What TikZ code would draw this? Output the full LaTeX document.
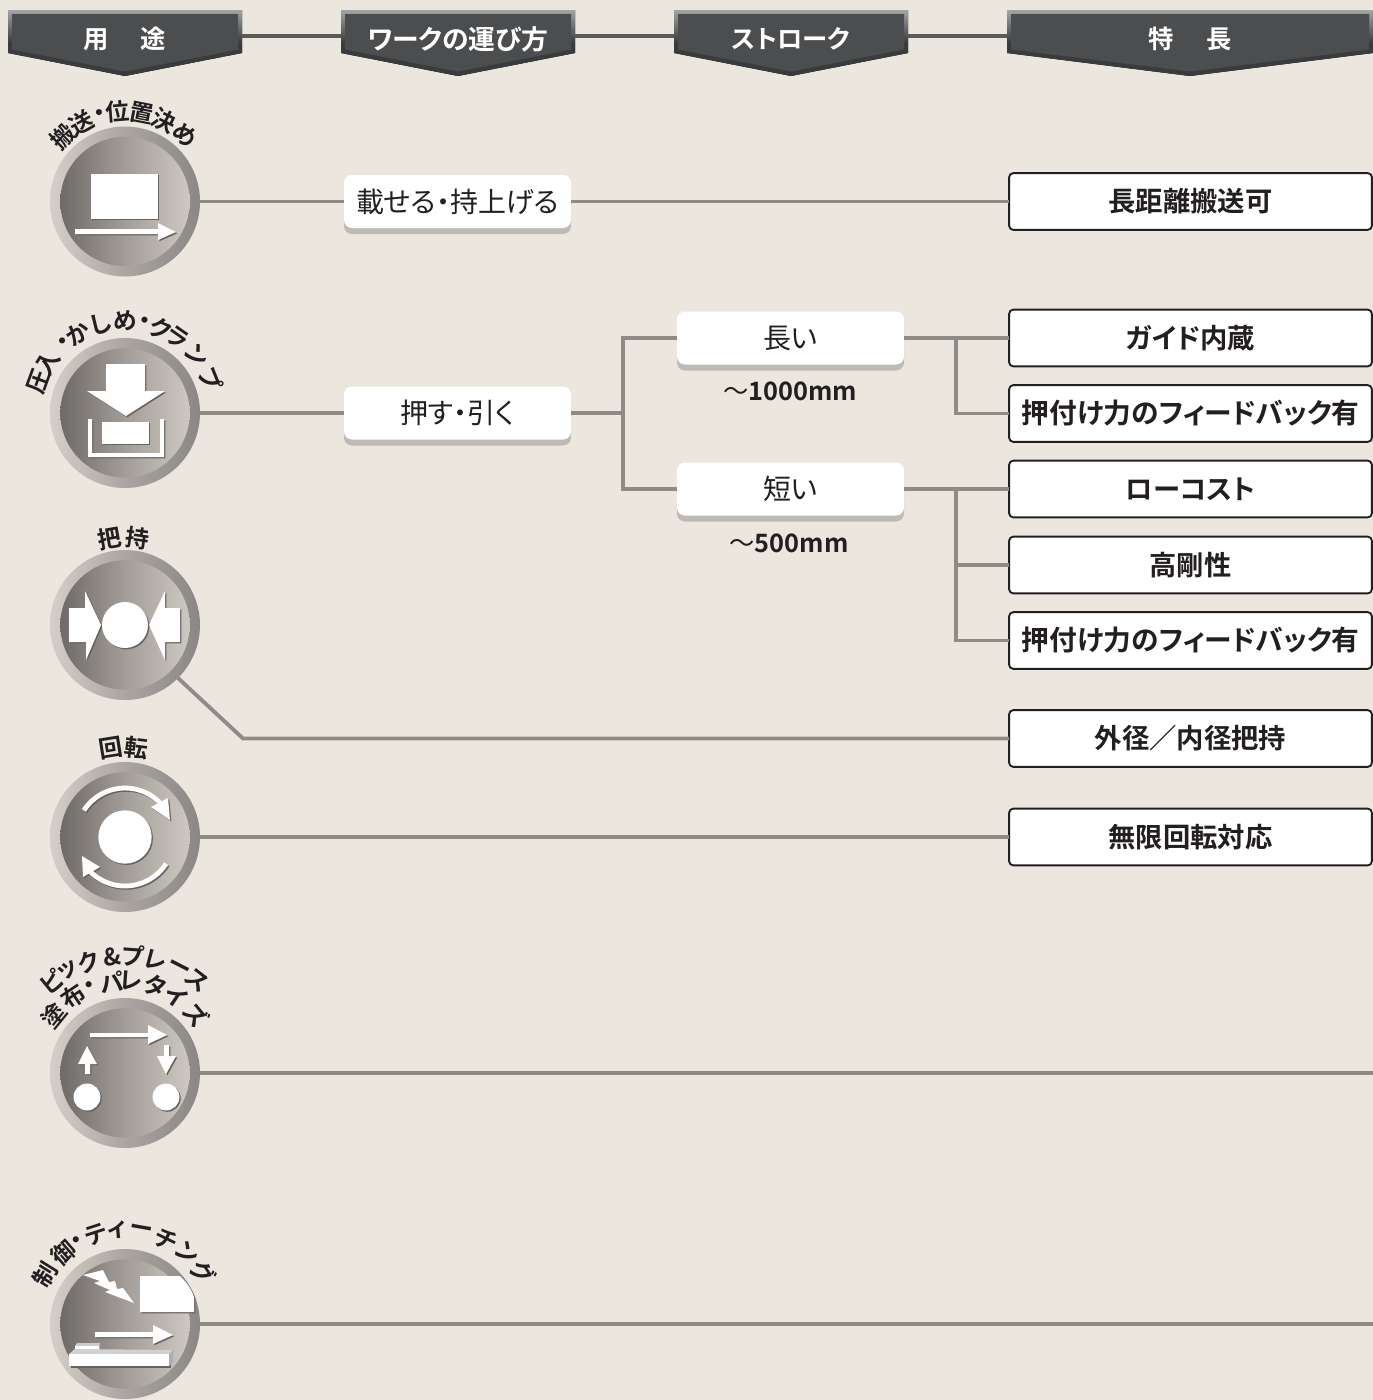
\documentclass[tikz,border=0pt]{standalone}
\usepackage{fontspec}
\setmainfont{Noto Sans CJK JP}[BoldFont={Noto Sans CJK JP Bold},RawFeature={+palt}]
\usetikzlibrary{shadows}
\definecolor{pagebg}{HTML}{EBE7DF}
\definecolor{hbody}{HTML}{4C4D4F}
\definecolor{hdark}{HTML}{3A3B3C}
\definecolor{hlight}{HTML}{A2A3A5}
\definecolor{hline}{HTML}{5C5A57}
\definecolor{cline}{HTML}{8F8C88}
\definecolor{inkc}{HTML}{231F20}
\definecolor{icsh}{HTML}{67635F}
\definecolor{pillsh}{HTML}{BFBBB4}
\definecolor{ra}{HTML}{D4CFC8}
\definecolor{rb}{HTML}{AAA5A0}
\definecolor{rc}{HTML}{8A8785}
\definecolor{ia}{HTML}{6E6A67}
\definecolor{ib}{HTML}{A39D99}
\definecolor{ic}{HTML}{CDC8C1}
\pgfdeclarehorizontalshading{ringsh}{100bp}{color(0bp)=(ra); color(25bp)=(ra); color(50bp)=(rb); color(75bp)=(rc); color(100bp)=(rc)}
\pgfdeclarehorizontalshading{innersh}{100bp}{color(0bp)=(ia); color(25bp)=(ia); color(50bp)=(ib); color(75bp)=(ic); color(100bp)=(ic)}
\pgfdeclareverticalshading{hdrsh}{100bp}{color(0bp)=(hdark); color(25bp)=(hdark); color(50bp)=(hdark); color(75bp)=(hlight); color(100bp)=(hlight)}
\tikzset{
  hdrtext/.style={text=white,font=\bfseries\fontsize{19}{19}\selectfont,inner sep=0pt},
  pillbox/.style={rounded corners=6pt,fill=white,minimum width=170.25pt,minimum height=39.75pt,inner sep=0pt,outer sep=0pt,text=inkc,font=\fontsize{21}{21}\selectfont,general shadow={fill=pillsh,shadow yshift=-4.5pt,shadow xshift=0pt}},
  featbox/.style={draw=inkc,line width=1.4pt,rounded corners=3pt,fill=white,minimum width=272pt,minimum height=42.5pt,inner sep=0pt,outer sep=0pt,text=inkc,font=\bfseries\fontsize{20.5}{21}\selectfont},
  featlong/.style={featbox,font=\bfseries\fontsize{20.8}{21}\selectfont},
  arcl/.style={text=inkc,font=\bfseries\fontsize{17.8}{18}\selectfont,inner sep=0pt},
  rangel/.style={text=inkc,font=\fontsize{19}{20}\selectfont,inner sep=0pt},
  link/.style={draw=cline,line width=2.9pt},
  hlink/.style={draw=hline,line width=2.9pt},
  ringo/.style={circle,shading=ringsh,minimum size=112.5pt,inner sep=0pt,outer sep=0pt},
  ringi/.style={circle,shading=innersh,minimum size=97pt,inner sep=0pt,outer sep=0pt}
}
\newcommand{\arctxt}[5]{\foreach \ch/\an [count=\i] in {#5} {\node[arcl,rotate=-\an] (#1-\i) at ({#2+#4*sin(\an)},{#3-#4*cos(\an)}) {\ch};}}
\newcommand{\hdr}[4]{%
  \fill[shading=hdrsh] (#2,10)--(#3,10)--(#3,53)--({(#2+#3)/2},76)--(#2,53)--cycle;
  \fill[hbody] ({#2+4},14)--({#3-4},14)--({#3-4},49.5)--({(#2+#3)/2},71.5)--({#2+4},49.5)--cycle;
  \node[hdrtext] (#1) at ({(#2+#3)/2},39) {#4};
  \coordinate (#1l) at (#2,36);
  \coordinate (#1r) at (#3,36);}
\newcommand{\ringnode}[2]{\node[ringo] (#1) at (125,#2) {}; \node[ringi] (#1i) at (125,#2) {};}
\newcommand{\ico}[1]{\fill[icsh,shift={(1.3,1.3)}] #1; \fill[white] #1;}
\begin{document}
\begin{tikzpicture}[x=0.75pt,y=-0.75pt]
\useasboundingbox (0,0) rectangle (1373,1400);
\fill[pagebg] (0,0) rectangle (1373,1400);
% headers
\hdr{h1}{8}{242}{用\hspace{24pt}途}
\hdr{h2}{341}{575}{\fontsize{20.1}{20}\selectfont ワークの運び方}
\hdr{h3}{674}{908}{ストローク}
\hdr{h4}{1007}{1373}{特\hspace{24pt}長}
\draw[hlink] (h1r)--(h2l);
\draw[hlink] (h2r)--(h3l);
\draw[hlink] (h3r)--(h4l);
% rings
\ringnode{c1}{201.5}
\ringnode{c2}{413}
\ringnode{c3}{625}
\ringnode{c4}{837}
\ringnode{c5}{1073}
\ringnode{c6}{1324}
% arc labels
\arctxt{t1}{125}{201.5}{90}{搬/-44,送/-29,・/-16,位/-4.5,置/11,決/26,め/42}
\arctxt{t2}{125}{413}{92}{圧/-70,入/-57,・/-41,か/-31,し/-15,め/0,・/12,ク/23,ラ/35,ン/51,プ/68}
\arctxt{t3}{125}{625}{88}{把/-10,持/8}
\arctxt{t4}{125}{837}{90}{回/-9,転/7}
\arctxt{t5}{125}{1073}{117}{ピ/-39,ッ/-29,ク/-18.4,\&/-6.4,プ/4,レ/15,ー/27,ス/38}
\arctxt{t6}{125}{1073}{92}{塗/-51,布/-34,・/-22,パ/-8,レ/4,タ/19,イ/34,ズ/51}
\arctxt{t7}{125}{1324}{94}{制/-58,御/-41,・/-30,テ/-18,ィ/-5,ー/10,チ/26,ン/41,グ/56}
% pills
\node[pillbox] (p1) at (457.5,201.5) {載せる・持上げる};
\node[pillbox] (p2) at (457.5,413) {押す・引く};
\node[pillbox] (l1) at (790.5,338) {長い};
\node[pillbox] (s1) at (790.5,489) {短い};
\node[rangel] (r1) at (790,391) {〜{\bfseries 1000mm}};
\node[rangel] (r2) at (789,543) {〜{\bfseries 500mm}};
% feature boxes
\node[featbox] (b1) at (1190.5,201.5) {長距離搬送可};
\node[featbox] (b2) at (1190.5,338) {ガイド内蔵};
\node[featlong] (b3) at (1190.5,413.5) {押付け力のフィードバック有};
\node[featbox] (b4) at (1190.5,489) {ローコスト};
\node[featbox] (b5) at (1190.5,565) {高剛性};
\node[featlong] (b6) at (1190.5,640.5) {押付け力のフィードバック有};
\node[featbox] (b7) at (1190.5,738.5) {外径／内径把持};
\node[featbox] (b8) at (1190.5,837) {無限回転対応};
% connectors
\coordinate (j1) at (623,413);
\coordinate (j2) at (956,338);
\coordinate (j3) at (956,489);
\coordinate (k3) at (243,738.5);
\coordinate (e5) at (1373,1073);
\coordinate (e6) at (1373,1324);
\draw[link] (c1.east)--(p1.west);
\draw[link] (p1.east)--(b1.west);
\draw[link] (c2.east)--(p2.west);
\draw[link] (p2.east)--(j1);
\draw[link] (l1.west)-|(j1);
\draw[link] (s1.west)-|(j1);
\draw[link] (l1.east)--(b2.west);
\draw[link] (b3.west)-|(j2);
\draw[link] (s1.east)--(b4.west);
\draw[link] (b5.west)-|(j3);
\draw[link] (b6.west)-|(j3);
\draw[link] (c3.-45)--(k3)--(b7.west);
\draw[link] (c4.east)--(b8.west);
\draw[link] (c5.east)--(e5);
\draw[link] (c6.east)--(e6);
% icon 1
\ico{(91,174) rectangle (158,219)}
\ico{(75,229)--(158,229)--(158,223)--(176,232)--(158,240)--(158,234)--(75,234)--cycle}
% icon 2
\ico{(106,364)--(145,364)--(145,391)--(165,391)--(126,416)--(87,391)--(106,391)--cycle}
\ico{(102,422) rectangle (149,444)}
\ico{(88,419)--(92,419)--(92,453)--(160,453)--(160,419)--(164,419)--(164,457)--(88,457)--cycle}
% icon 3
\ico{(69,608)--(85,608)--(85,591)--(101,625)--(86,660)--(86,642)--(69,642)--cycle}
\ico{(180,608)--(165,608)--(165,591)--(149,625)--(165,660)--(165,642)--(180,642)--cycle}
\ico{(125,625) circle[radius=17.25pt]}
% icon 4
\ico{(125,837) circle[radius=20pt]}
\draw[icsh,line width=3.6pt,shift={(1.3,1.3)}] plot[smooth,samples=21,domain=147:44] ({125+49*cos(\x)},{837-49*sin(\x)});
\fill[icsh,shift={(1.3,1.3)}] (151,807)--(168,798)--(170,820)--cycle;
\draw[white,line width=3.6pt] plot[smooth,samples=21,domain=147:44] ({125+49*cos(\x)},{837-49*sin(\x)});
\fill[white] (151,807)--(168,798)--(170,820)--cycle;
\draw[icsh,line width=3.6pt,shift={(1.3,1.3)}] plot[smooth,samples=21,domain=-33:-136] ({125+49*cos(\x)},{837-49*sin(\x)});
\fill[icsh,shift={(1.3,1.3)}] (82,856)--(100,867)--(83,877)--cycle;
\draw[white,line width=3.6pt] plot[smooth,samples=21,domain=-33:-136] ({125+49*cos(\x)},{837-49*sin(\x)});
\fill[white] (82,856)--(100,867)--(83,877)--cycle;
% icon 5
\ico{(90,1033)--(148,1033)--(148,1025)--(167,1035)--(148,1044)--(148,1037)--(90,1037)--cycle}
\ico{(85,1074)--(85,1064)--(78,1064)--(87,1046)--(97,1064)--(90,1064)--(90,1074)--cycle}
\ico{(87,1097) circle[radius=10.1pt]}
\ico{(164,1045)--(169,1045)--(169,1056)--(176,1056)--(166,1074)--(157,1056)--(164,1056)--cycle}
\ico{(166,1097) circle[radius=10.1pt]}
% icon 6
\fill[white] (83,1275)--(103,1270)--(109,1282)--(115,1281)--(117,1289)--(123,1288)--(134,1303)--(105,1292)--(110,1290)--(94,1283)--(100,1281)--cycle;
\ico{(140,1276)--(180,1276) .. controls (187,1283) and (192,1290) .. (194,1297)--(194,1312)--(140,1312)--cycle}
\ico{(95,1332)--(153,1332)--(153,1325)--(173,1335)--(153,1344)--(153,1337)--(95,1337)--cycle}
\fill[icsh] (71,1356) rectangle (171,1368);
\fill[white!80!black] (75,1346)--(77,1343)--(100,1343)--(99,1346)--cycle;
\fill[white!68!black] (99,1346)--(100,1343)--(100,1350)--(99,1353)--cycle;
\fill[white] (75,1346) rectangle (99,1353);
\fill[white!82!black] (69,1354)--(75,1349)--(173,1350)--(169,1354)--cycle;
\fill[white!68!black] (169,1354)--(173,1350)--(173,1363)--(169,1366)--cycle;
\fill[white] (69,1354) rectangle (169,1366);
\end{tikzpicture}
\end{document}
